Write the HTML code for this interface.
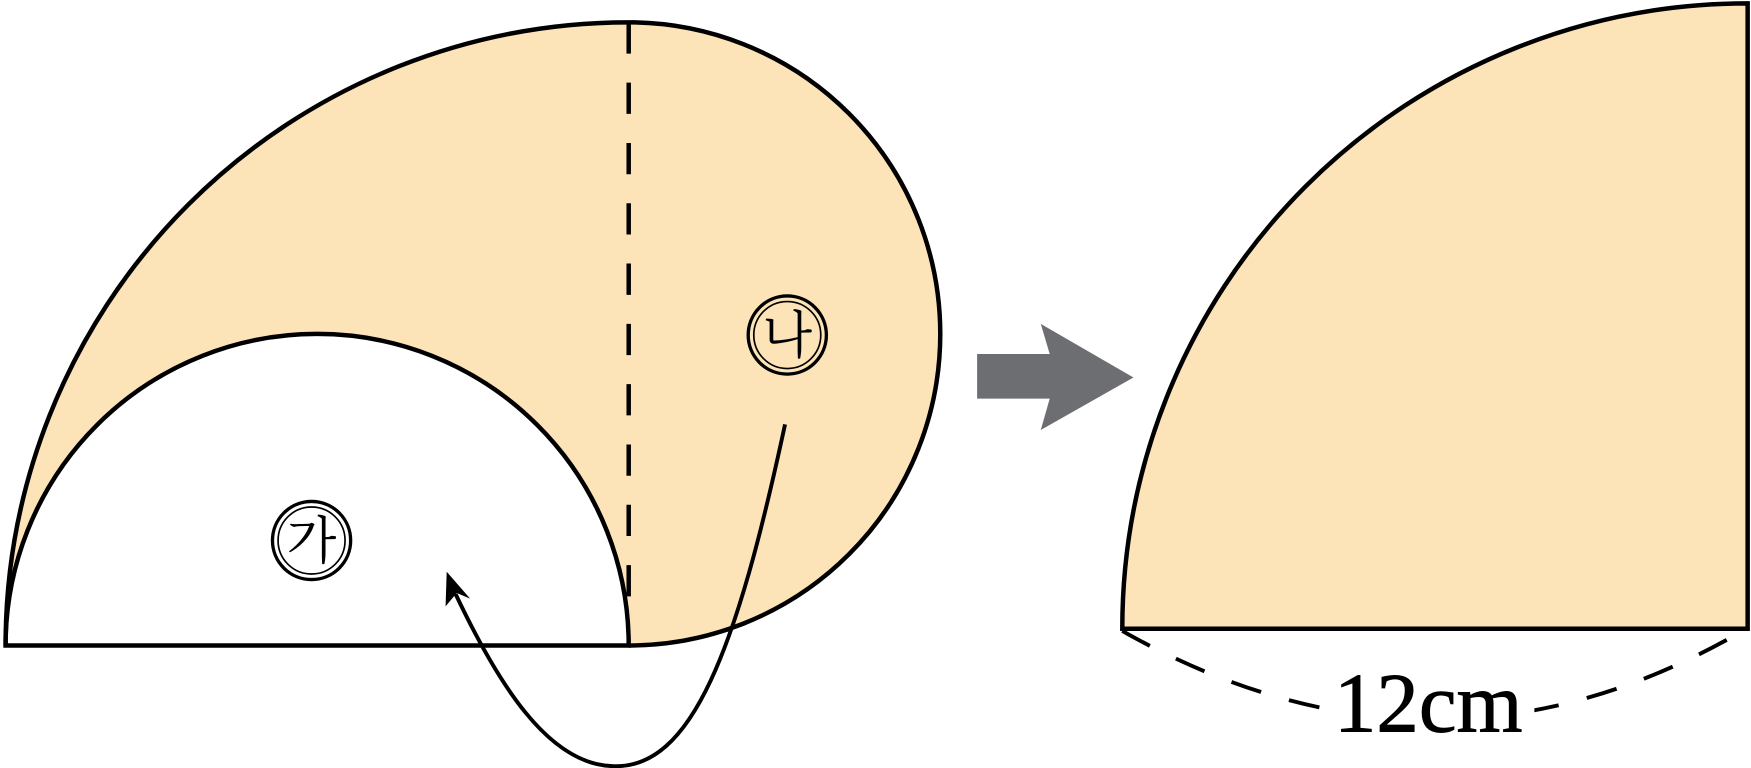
<!DOCTYPE html>
<html><head><meta charset="utf-8"><style>
html,body{margin:0;padding:0;background:#fff;width:1751px;height:768px;overflow:hidden}
</style></head><body>
<svg width="1751" height="768" viewBox="0 0 1568 687.7" preserveAspectRatio="none" xmlns="http://www.w3.org/2000/svg">
<path d="M5,578 A558,558 0 0 1 563,20 A279,279 0 0 1 563,578 Z" fill="#fde3b8" stroke="none"/>
<path d="M5,578 A279,279 0 0 1 563,578 Z" fill="#fff" stroke="#000" stroke-width="4"/>
<path d="M5,578 A558,558 0 0 1 563,20 A279,279 0 0 1 563,578" fill="none" stroke="#000" stroke-width="4"/>
<line x1="563" y1="20" x2="563" y2="560" stroke="#000" stroke-width="4" stroke-dasharray="28,26"/>
<g font-family="'Liberation Serif','Noto Serif CJK SC','Noto Sans CJK KR',serif" font-size="46" text-anchor="middle">
<circle cx="279" cy="484" r="35" fill="none" stroke="#000" stroke-width="3"/>
<circle cx="279" cy="484" r="30" fill="none" stroke="#000" stroke-width="1.5"/>
<text x="279" y="500">가</text>
<circle cx="705" cy="300" r="35" fill="none" stroke="#000" stroke-width="3"/>
<circle cx="705" cy="300" r="30" fill="none" stroke="#000" stroke-width="1.5"/>
<text x="705" y="316">나</text>
</g>
<path d="M703,380 C660,580 620,690 548,686 C490,684 445,610 408,532" fill="none" stroke="#000" stroke-width="3.5"/>
<polygon points="400,512 421,536 409,531 399,543" fill="#000"/>
<polygon points="875,317 940,317 932,290 1015,338 932,385 940,357 875,357" fill="#6d6e71"/>
<path d="M1005,563 A560,560 0 0 1 1565,3 L1565,563 Z" fill="#fde3b8" stroke="#000" stroke-width="4"/>
<path d="M1005,565 Q1280,720 1548,572" fill="none" stroke="#000" stroke-width="3.5" stroke-dasharray="28,26"/>
<rect x="1182" y="595" width="192" height="68" fill="#fff"/>
<text x="1279" y="655" font-family="'Liberation Serif',serif" font-size="76" text-anchor="middle" stroke="#000" stroke-width="0.8">12cm</text>
</svg>
</body></html>
